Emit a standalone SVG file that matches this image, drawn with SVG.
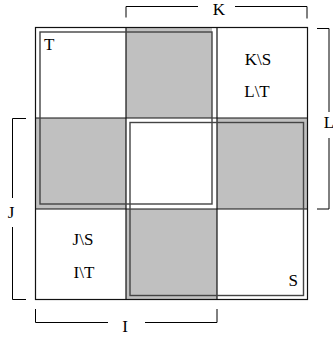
<svg xmlns="http://www.w3.org/2000/svg" width="333" height="338" viewBox="0 0 333 338">
<style>
.cell{fill:#c0c0c0;stroke:none}
.grid{fill:none;stroke:#111;stroke-width:1.2}
.set{fill:none;stroke:#444;stroke-width:1.4}
.br{fill:none;stroke:#000;stroke-width:1}
text{font-family:"Liberation Serif","Times New Roman",serif;font-size:17px;fill:#000}
.c{text-anchor:middle}
</style>
<rect width="333" height="338" fill="#fff"/>
<g id="cells">
<rect class="cell" x="126" y="27.5" width="86" height="90.5"/>
<rect class="cell" x="35.5" y="118" width="90.5" height="91"/>
<rect class="cell" x="217" y="118" width="90.5" height="91"/>
<rect class="cell" x="126" y="209" width="91" height="90.5"/>
</g>
<g id="grid">
<rect class="grid" x="35.5" y="27.5" width="272" height="272"/>
<line class="grid" x1="126" y1="27.5" x2="126" y2="299.5"/>
<line class="grid" x1="217" y1="27.5" x2="217" y2="299.5"/>
<line class="grid" x1="35.5" y1="118" x2="307.5" y2="118"/>
<line class="grid" x1="35.5" y1="209" x2="307.5" y2="209"/>
</g>
<g id="T">
<rect class="set" x="40" y="32" width="172" height="172"/>
<text x="44" y="50">T</text>
</g>
<g id="S">
<rect class="set" x="130" y="122.5" width="173.5" height="173"/>
<text x="288.5" y="286">S</text>
</g>
<g id="cellKL">
<text class="c" x="258" y="65">K\S</text>
<text class="c" x="257" y="97">L\T</text>
</g>
<g id="cellJI">
<text class="c" x="83" y="245">J\S</text>
<text class="c" x="84" y="278">I\T</text>
</g>
<g id="connectors">
<path class="br" d="M126,17.5 V6.5 H198 M235,6.5 H307 V18.5"/>
<path class="br" d="M317,28.5 H329 V112 M329,138 V209 H317"/>
<path class="br" d="M26,118.5 H12.5 V198 M12.5,227 V299.5 H26"/>
<path class="br" d="M35.5,309 V322.5 H108 M145,322.5 H217 V309"/>
</g>
<g id="labels">
<text class="c" x="219" y="14.5">K</text>
<text class="c" x="329" y="128">L</text>
<text class="c" x="11" y="218">J</text>
<text class="c" x="125" y="332">I</text>
</g>
</svg>
